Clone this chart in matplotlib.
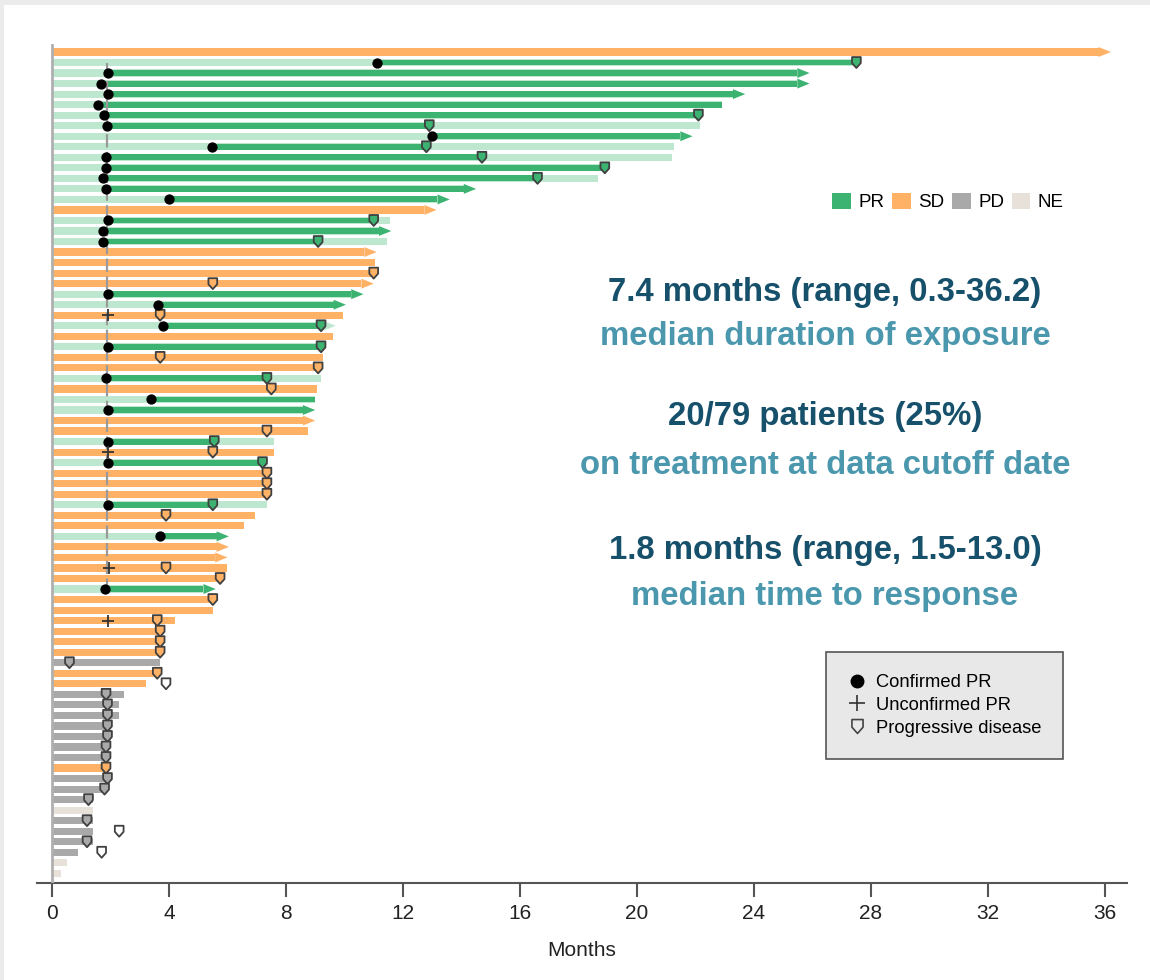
import matplotlib.pyplot as plt
import numpy as np
from matplotlib import font_manager
from matplotlib.patches import Patch, Polygon, Rectangle
from matplotlib.lines import Line2D
from matplotlib.path import Path

# best overall response per patient (top to bottom)
response = ['SD', 'PR', 'PR', 'PR', 'PR', 'PR', 'PR', 'PR', 'PR', 'PR',
            'PR', 'PR', 'PR', 'PR', 'PR', 'SD', 'PR', 'PR', 'PR', 'SD',
            'SD', 'SD', 'SD', 'PR', 'PR', 'SD', 'PR', 'SD', 'PR', 'SD',
            'SD', 'PR', 'SD', 'PR', 'PR', 'SD', 'SD', 'PR', 'SD', 'PR',
            'SD', 'SD', 'SD', 'PR', 'SD', 'SD', 'PR', 'SD', 'SD', 'SD',
            'SD', 'PR', 'SD', 'SD', 'SD', 'SD', 'SD', 'SD', 'PD', 'SD',
            'SD', 'PD', 'PD', 'PD', 'PD', 'PD', 'PD', 'PD', 'SD', 'PD',
            'PD', 'PD', 'NE', 'PD', 'PD', 'PD', 'PD', 'NE', 'NE']

# duration of exposure (months)
exposure = [36.2, 27.6, 25.9, 25.9, 23.7, 22.9, 22.15, 22.15, 21.9, 21.25,
            21.2, 18.9, 18.65, 14.5, 13.6, 13.15, 11.55, 11.6, 11.45, 11.1,
            11.05, 11.05, 11.0, 10.65, 10.05, 9.95, 9.7, 9.6, 9.3, 9.25,
            9.15, 9.2, 9.05, 9.0, 9.0, 9.0, 8.75, 7.6, 7.6, 7.4,
            7.4, 7.35, 7.35, 7.35, 6.95, 6.55, 6.05, 6.05, 6.0, 6.0,
            5.8, 5.6, 5.55, 5.5, 4.2, 3.7, 3.7, 3.7, 3.7, 3.6,
            3.2, 2.45, 2.3, 2.3, 1.9, 1.9, 1.85, 1.85, 1.85, 1.9,
            1.8, 1.4, 1.4, 1.4, 1.4, 1.4, 0.9, 0.5, 0.3]

# still on treatment at data cutoff
ongoing = [1, 0, 1, 1, 1, 0, 0, 0, 1, 0,
           0, 0, 0, 1, 1, 1, 0, 1, 0, 1,
           0, 0, 1, 1, 1, 0, 1, 0, 0, 0,
           0, 0, 0, 0, 1, 1, 0, 0, 0, 0,
           0, 0, 0, 0, 0, 0, 1, 1, 1, 0,
           0, 1, 0, 0, 0, 0, 0, 0, 0, 0,
           0, 0, 0, 0, 0, 0, 0, 0, 0, 0,
           0, 0, 0, 0, 0, 0, 0, 0, 0]

# time of confirmed PR
confirmed_pr = {1: 11.1, 2: 1.9, 3: 1.68, 4: 1.9, 5: 1.58, 6: 1.79, 7: 1.87,
                8: 13.0, 9: 5.46, 10: 1.85, 11: 1.85, 12: 1.73, 13: 1.85,
                14: 4.0, 16: 1.9, 17: 1.75, 18: 1.73, 23: 1.9, 24: 3.63,
                26: 3.8, 28: 1.9, 31: 1.85, 33: 3.4, 34: 1.9, 37: 1.9,
                39: 1.9, 43: 1.9, 46: 3.7, 51: 1.8}

# time of unconfirmed PR
unconfirmed_pr = {25: 1.9, 38: 1.9, 49: 1.95, 54: 1.9}

# time of progressive disease
progression = {1: 27.5, 6: 22.1, 7: 12.9, 9: 12.8, 10: 14.7, 11: 18.9,
               12: 16.6, 16: 11.0, 18: 9.1, 21: 11.0, 22: 5.5, 25: 3.7,
               26: 9.2, 28: 9.2, 29: 3.7, 30: 9.1, 31: 7.35, 32: 7.5,
               36: 7.35, 37: 5.55, 38: 5.5, 39: 7.2, 40: 7.35, 41: 7.35,
               42: 7.35, 43: 5.5, 44: 3.9, 49: 3.9, 50: 5.75, 52: 5.5,
               54: 3.6, 55: 3.7, 56: 3.7, 57: 3.7, 58: 0.6, 59: 3.6,
               60: 3.9, 61: 1.85, 62: 1.9, 63: 1.9, 64: 1.9, 65: 1.9,
               66: 1.85, 67: 1.85, 68: 1.85, 69: 1.9, 70: 1.8, 71: 1.25,
               73: 1.2, 74: 2.3, 75: 1.2, 76: 1.7}

first_scan = 1.88

colors = {'PR': '#3cb371', 'SD': '#ffb265', 'PD': '#a9a9a9', 'NE': '#e8e1da'}
light_pr = '#bde8cf'
dark_text = '#16506a'
light_text = '#4b98ae'

names = {f.name for f in font_manager.fontManager.ttflist}
narrow = 'Liberation Sans Narrow' if 'Liberation Sans Narrow' in names else 'Liberation Sans'
plt.rcParams['font.family'] = ['Liberation Sans', 'DejaVu Sans']

fig = plt.figure(figsize=(11.5, 9.8), dpi=100, facecolor='#ebebeb')
fig.patches.append(Rectangle((4 / 1150, 0), 1, 975 / 980, transform=fig.transFigure,
                             facecolor='white', edgecolor='none', zorder=-5))
ax = fig.add_axes([37 / 1150, 97 / 980, 1090 / 1150, 843 / 980])
ax.set_facecolor('none')

n = len(response)
rows = np.arange(n)
head_len = 0.42
head_half = 0.47
bar_h = 0.68

for i in rows:
    dur = exposure[i]
    end = dur - head_len if ongoing[i] else dur
    if response[i] == 'PR':
        ax.barh(i, end, height=bar_h, color=light_pr, zorder=1)
        start = confirmed_pr[i]
        stop = progression.get(i, end)
        ax.barh(i, stop - start, left=start, height=0.56, color=colors['PR'], zorder=2)
        head_color = colors['PR'] if i not in progression else light_pr
    else:
        ax.barh(i, end, height=bar_h, color=colors[response[i]], zorder=1)
        head_color = colors[response[i]]
    if ongoing[i]:
        ax.add_patch(Polygon([(end, i - head_half), (dur, i), (end, i + head_half)],
                             closed=True, facecolor=head_color, edgecolor='none', zorder=2))

# first response assessment
ax.vlines(first_scan, 1, 51, colors='#9a9a9a', linewidth=1.6,
          linestyles=(0, (6, 2)), zorder=3)
ax.axvline(0, ymin=0, ymax=(883 - 45) / 843, color='#b0b0b0', linewidth=2, zorder=3)

# shield-shaped marker for progressive disease
shield = Path([(-0.8, 1.0), (0.8, 1.0), (0.8, -0.1), (0.0, -1.0), (-0.8, -0.1), (-0.8, 1.0)],
              [Path.MOVETO, Path.LINETO, Path.LINETO, Path.LINETO, Path.LINETO, Path.CLOSEPOLY])

pd_rows = list(progression.keys())
pd_x = [progression[i] for i in pd_rows]
pd_face = []
for i in pd_rows:
    if progression[i] > exposure[i] + 0.05:
        pd_face.append('white')
    else:
        pd_face.append(colors[response[i]])
ax.scatter(pd_x, pd_rows, marker=shield, s=62, facecolors=pd_face,
           edgecolors='#404040', linewidths=1.3, zorder=5)

cr_rows = list(confirmed_pr.keys())
ax.plot([confirmed_pr[i] for i in cr_rows], cr_rows, 'o', color='black',
        markersize=6.4, linestyle='none', zorder=6)
ur_rows = list(unconfirmed_pr.keys())
ax.plot([unconfirmed_pr[i] for i in ur_rows], ur_rows, '+', color='#333333',
        markersize=8, markeredgewidth=1.3, linestyle='none', zorder=6)

ax.set_xlim(-0.51, 36.75)
ax.set_ylim((883 - 52) / 10.53, -12 / 10.53)
ax.set_xticks(np.arange(0, 37, 4))
ax.set_yticks([])
for side in ['top', 'right', 'left']:
    ax.spines[side].set_visible(False)
ax.spines['bottom'].set_color('#555555')
ax.spines['bottom'].set_linewidth(1.5)
ax.tick_params(axis='x', length=10, width=1.5, color='#555555', labelsize=15,
               labelcolor='#222222', pad=5)
ax.set_xlabel('Months', fontsize=15, color='#222222', labelpad=13)

# response legend
resp_handles = [Patch(facecolor=colors[k], edgecolor='none') for k in ['PR', 'SD', 'PD', 'NE']]
leg1 = ax.legend(resp_handles, ['PR', 'SD', 'PD', 'NE'], ncol=4, loc='center',
                 bbox_to_anchor=(948 / 1150, 1 - 202 / 980), bbox_transform=fig.transFigure,
                 frameon=False, fontsize=13.5, handlelength=1.0, handleheight=1.0,
                 handletextpad=0.4, columnspacing=0.4, borderaxespad=0)
ax.add_artist(leg1)

# marker legend
mark_handles = [
    Line2D([], [], marker='o', color='black', linestyle='none', markersize=9),
    Line2D([], [], marker='+', color='#333333', linestyle='none', markersize=11,
           markeredgewidth=1.2),
    Line2D([], [], marker=shield, markerfacecolor='none', markeredgecolor='#444444',
           linestyle='none', markersize=10, markeredgewidth=1.2),
]
leg2 = ax.legend(mark_handles, ['Confirmed PR', 'Unconfirmed PR', 'Progressive disease'],
                 loc='upper left', bbox_to_anchor=(826 / 1150, 1 - 652 / 980),
                 bbox_transform=fig.transFigure, fontsize=13.2, frameon=True,
                 fancybox=False, facecolor='#e8e8e8', edgecolor='#555555',
                 framealpha=1, borderpad=1.2, labelspacing=0.32, handlelength=1.0,
                 handletextpad=0.5, borderaxespad=0)
leg2.get_frame().set_linewidth(1.2)

# summary statistics
summary = [
    ('7.4 months (range, 0.3-36.2)', 292, dark_text),
    ('median duration of exposure', 337, light_text),
    ('20/79 patients (25%)', 416, dark_text),
    ('on treatment at data cutoff date', 466, light_text),
    ('1.8 months (range, 1.5-13.0)', 550, dark_text),
    ('median time to response', 596, light_text),
]
for text, ypix, col in summary:
    fig.text(825 / 1150, 1 - ypix / 980, text, ha='center', va='center',
             fontsize=23.7, fontweight='bold', color=col, family=narrow)

fig.savefig('out.png', dpi=100, facecolor=fig.get_facecolor())
